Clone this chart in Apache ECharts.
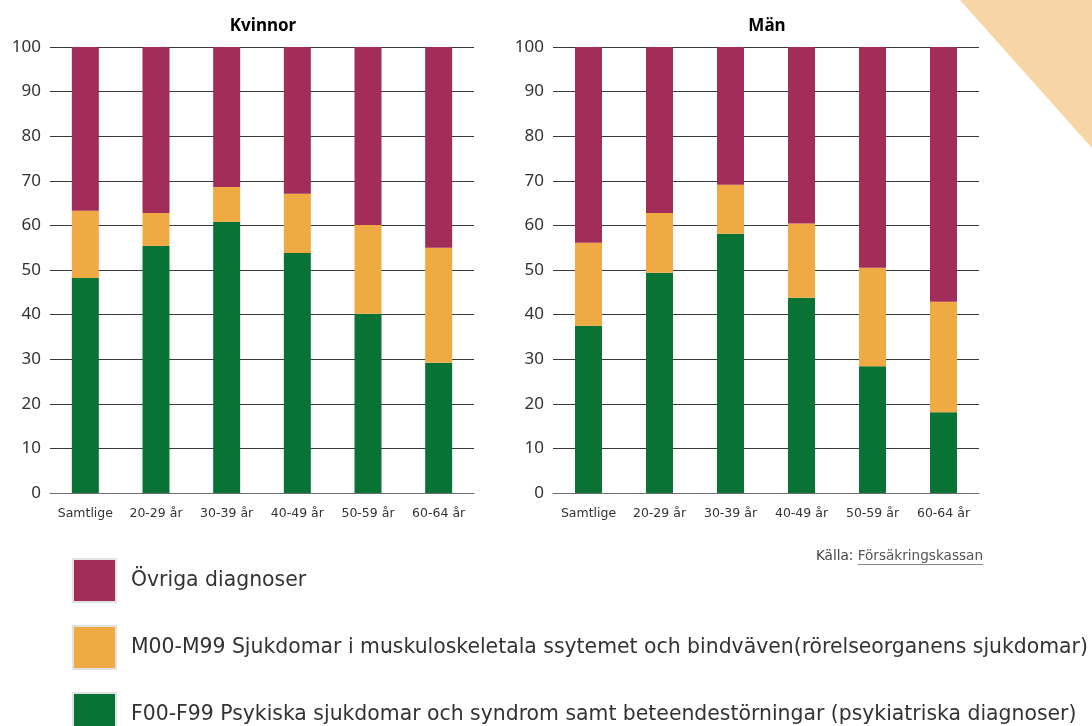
<!DOCTYPE html>
<html>
<head>
<meta charset="utf-8">
<script src="https://cdn.jsdelivr.net/npm/echarts@6/dist/echarts.min.js"></script>
<style>
html,body{margin:0;padding:0;background:#fff;}
#c{width:1092px;height:726px;}
</style>
</head>
<body>
<div id="c"></div>
<script>
const categories = ['Samtlige', '20-29 år', '30-39 år', '40-49 år', '50-59 år', '60-64 år'];
const seriesNames = [
  'F00-F99 Psykiska sjukdomar och syndrom samt beteendestörningar (psykiatriska diagnoser)',
  'M00-M99 Sjukdomar i muskuloskeletala ssytemet och bindväven(rörelseorganens sjukdomar)',
  'Övriga diagnoser'
];
const panelTitles = ['Kvinnor', 'Män'];
const yTicks = [0, 10, 20, 30, 40, 50, 60, 70, 80, 90, 100];
const sourceLabel = 'Källa:';
const sourceName = 'Försäkringskassan';

const kvinnorPsyk = [48.2, 55.4, 60.8, 53.8, 40.2, 29.2];
const kvinnorMusk = [15.1, 7.4, 7.8, 13.3, 19.9, 25.8];
const kvinnorOvr  = [36.7, 37.2, 31.4, 32.9, 39.9, 45.0];

const manPsyk = [37.5, 49.4, 58.1, 43.8, 28.4, 18.1];
const manMusk = [18.6, 13.4, 11.0, 16.6, 22.1, 24.8];
const manOvr  = [43.9, 37.2, 30.9, 39.6, 49.5, 57.1];

const colors = ['#097336', '#F0AA44', '#A22D59'];
const FONT = '"Noto Sans"';
const FONT2 = '"DejaVu Sans"';

function measure(text, size, family, weight) {
  const cv = document.createElement('canvas').getContext('2d');
  cv.font = (weight || 'normal') + ' ' + size + 'px ' + family;
  return cv.measureText(text).width;
}

const chart = echarts.init(document.getElementById('c'), null, {renderer: 'canvas'});

function xAxisCfg(idx) {
  return {
    type: 'category', gridIndex: idx, data: categories,
    axisLine: {show: true, lineStyle: {color: '#6e6e6e', width: 1}},
    axisTick: {show: false},
    axisLabel: {color: '#333', fontSize: 12.5, fontFamily: FONT2, margin: 14, interval: 0}
  };
}
function yAxisCfg(idx) {
  return {
    type: 'value', gridIndex: idx, min: yTicks[0], max: yTicks[yTicks.length - 1], interval: 10,
    axisLine: {show: false}, axisTick: {show: false},
    axisLabel: {color: '#333', fontSize: 17, fontFamily: FONT, margin: 9},
    splitLine: {show: true, lineStyle: {color: '#3a3a3a', width: 1}}
  };
}
function bar(name, data, idx, color) {
  return {
    name: name, type: 'bar', stack: 's' + idx, xAxisIndex: idx, yAxisIndex: idx,
    data: data, barWidth: 27, itemStyle: {color: color}, emphasis: {disabled: true}
  };
}

const srcRight = 983;
const nameW = measure(sourceName, 13.6, FONT2);
const nameLeft = srcRight - nameW;
const gapW = measure(' ', 13.6, FONT2);

const option = {
  animation: false,
  backgroundColor: '#fff',
  textStyle: {fontFamily: FONT},
  grid: [
    {left: 50, right: 618, top: 47, bottom: 233},
    {left: 553, right: 113, top: 47, bottom: 233}
  ],
  xAxis: [xAxisCfg(0), xAxisCfg(1)],
  yAxis: [yAxisCfg(0), yAxisCfg(1)],
  legend: {
    orient: 'vertical', left: 72, top: 558, height: 300, padding: 0,
    data: [seriesNames[2], seriesNames[1], seriesNames[0]],
    icon: 'rect', itemWidth: 43, itemHeight: 43, itemGap: 22,
    selectedMode: false,
    itemStyle: {borderColor: '#e2e2e2', borderWidth: 2},
    textStyle: {fontSize: 20.4, color: '#333', fontFamily: FONT2, padding: [3, 0, 0, 10]}
  },
  series: [
    bar(seriesNames[0], kvinnorPsyk, 0, colors[0]),
    bar(seriesNames[1], kvinnorMusk, 0, colors[1]),
    bar(seriesNames[2], kvinnorOvr, 0, colors[2]),
    bar(seriesNames[0], manPsyk, 1, colors[0]),
    bar(seriesNames[1], manMusk, 1, colors[1]),
    bar(seriesNames[2], manOvr, 1, colors[2])
  ],
  graphic: [
    {type: 'polygon', z: -10, shape: {points: [[960, 0], [1092, 0], [1092, 148]]}, style: {fill: '#F8D5A5'}},
    {type: 'text', x: 263, y: 26, style: {text: panelTitles[0], fontSize: 17, fontWeight: 'bold', fill: '#000', fontFamily: FONT, textAlign: 'center', textVerticalAlign: 'middle'}},
    {type: 'text', x: 767, y: 26, style: {text: panelTitles[1], fontSize: 17, fontWeight: 'bold', fill: '#000', fontFamily: FONT, textAlign: 'center', textVerticalAlign: 'middle'}},
    {type: 'text', x: nameLeft - gapW, y: 556, style: {text: sourceLabel, fontSize: 13.6, fill: '#444', fontFamily: FONT2, textAlign: 'right', textVerticalAlign: 'middle'}},
    {type: 'text', x: srcRight, y: 556, style: {text: sourceName, fontSize: 13.6, fill: '#555', fontFamily: FONT2, textAlign: 'right', textVerticalAlign: 'middle'}},
    {type: 'line', shape: {x1: nameLeft, y1: 564.5, x2: srcRight, y2: 564.5}, style: {stroke: '#888', lineWidth: 1}}
  ]
};
chart.setOption(option);
</script>
</body>
</html>
